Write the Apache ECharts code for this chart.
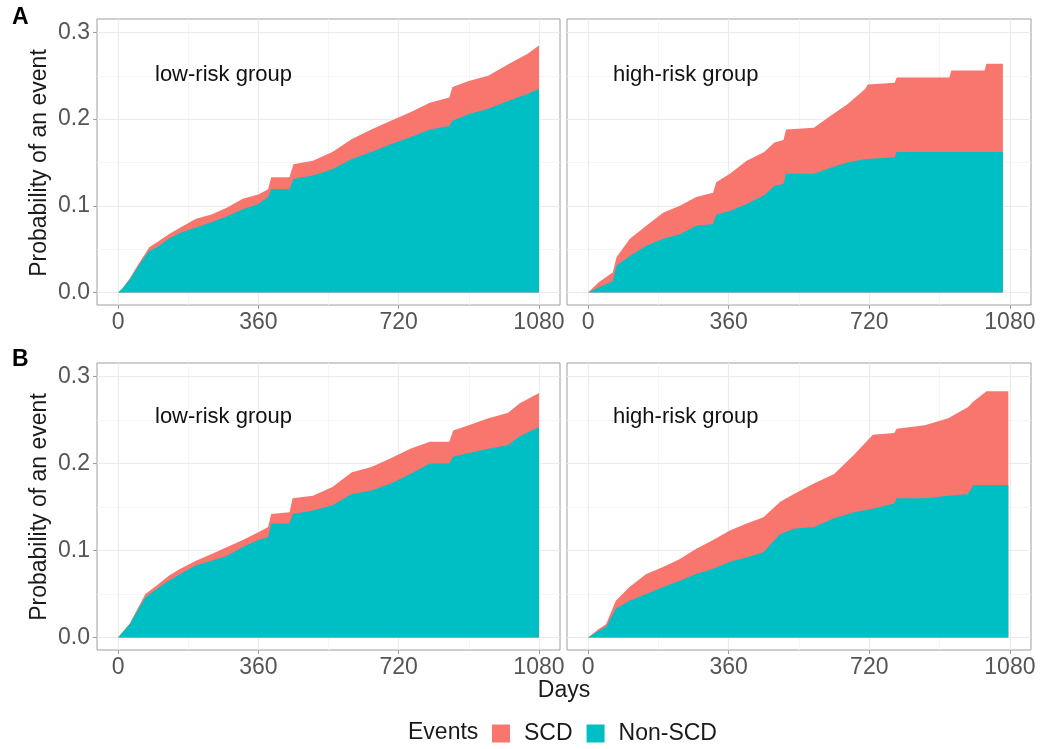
<!DOCTYPE html>
<html><head><meta charset="utf-8">
<script src="https://cdn.jsdelivr.net/npm/echarts@6/dist/echarts.min.js"></script>
<style>html,body{margin:0;padding:0;background:#fff}#c{width:1040px;height:749px}</style>
</head><body><div id="c"></div>
<script>
// ---- ticks / labels ----
const xTicks = [0, 360, 720, 1080];
const xMinor = [180, 540, 900];
const yTicks = [0, 0.1, 0.2, 0.3];
const yMinor = [0.05, 0.15, 0.25];
const seriesNames = ['SCD', 'Non-SCD'];
const groupLabels = ['low-risk group', 'high-risk group'];
const rowLabels = ['A', 'B'];
const xTitle = 'Days';
const yTitle = 'Probability of an event';
const legendTitle = 'Events';

// ---- data: A, low-risk ----
const lowA_days   = [0, 10, 30, 50, 70, 80, 100, 130, 160, 200, 240, 280, 320, 360, 385, 393, 440, 450, 500, 550, 600, 650, 700, 750, 800, 850, 858, 900, 950, 1000, 1050, 1080];
const lowA_nonSCD = [0, .004, .015, .029, .042, .048, .052, .062, .069, .075, .081, .088, .096, .102, .110, .119, .119, .131, .135, .142, .154, .162, .171, .179, .188, .192, .198, .206, .212, .221, .229, .235];
const lowA_SCD    = [0, 0, .001, .002, .003, .004, .006, .005, .006, .010, .009, .010, .012, .011, .009, .014, .014, .017, .017, .020, .023, .026, .027, .029, .031, .033, .039, .038, .038, .042, .046, .050];

// ---- data: A, high-risk ----
const highA_days   = [0, 28, 63, 73, 107, 149, 192, 235, 277, 320, 328, 363, 406, 451, 477, 500, 507, 578, 621, 664, 710, 716, 785, 790, 925, 930, 1015, 1020, 1062];
const highA_nonSCD = [0, .006, .013, .031, .042, .054, .062, .067, .077, .079, .090, .094, .102, .112, .123, .125, .137, .137, .144, .150, .154, .154, .156, .162, .162, .162, .162, .162, .162];
const highA_SCD    = [0, .006, .010, .010, .020, .023, .030, .033, .033, .036, .037, .043, .050, .050, .050, .051, .051, .053, .060, .067, .081, .086, .086, .086, .086, .094, .094, .102, .102];

// ---- data: B, low-risk ----
const lowB_days   = [0, 30, 50, 70, 100, 130, 160, 200, 240, 280, 320, 360, 385, 393, 440, 448, 500, 550, 600, 650, 700, 750, 800, 850, 860, 900, 950, 1000, 1030, 1080];
const lowB_nonSCD = [0, .015, .031, .046, .056, .065, .073, .083, .088, .094, .104, .112, .115, .131, .131, .142, .146, .152, .165, .169, .177, .188, .200, .200, .208, .212, .217, .221, .231, .242];
const lowB_SCD    = [0, .001, .002, .004, .004, .006, .006, .005, .008, .010, .008, .009, .012, .011, .013, .018, .017, .021, .025, .027, .029, .029, .025, .025, .030, .032, .035, .037, .038, .039];

// ---- data: B, high-risk ----
const highB_days   = [0, 28, 46, 71, 106, 149, 192, 235, 277, 320, 363, 406, 449, 492, 527, 578, 630, 681, 729, 784, 790, 862, 922, 973, 986, 1020, 1076];
const highB_nonSCD = [0, .008, .012, .033, .042, .050, .058, .065, .073, .079, .087, .092, .098, .119, .125, .127, .137, .144, .148, .154, .160, .160, .163, .165, .175, .175, .175];
const highB_SCD    = [0, .002, .003, .009, .016, .023, .023, .025, .029, .033, .036, .039, .040, .037, .040, .050, .051, .066, .085, .081, .080, .084, .089, .100, .096, .108, .108];

const COL_SCD = '#F8766D', COL_NON = '#00BFC4';
const FONT = "'Liberation Sans', Arial, Helvetica, sans-serif";

const panels = [
  {days: lowA_days,  non: lowA_nonSCD,  scd: lowA_SCD,  grid: {left: 97,  top: 19,  width: 463, height: 286}, showY: true},
  {days: highA_days, non: highA_nonSCD, scd: highA_SCD, grid: {left: 567, top: 19,  width: 464, height: 286}, showY: false},
  {days: lowB_days,  non: lowB_nonSCD,  scd: lowB_SCD,  grid: {left: 97,  top: 363, width: 463, height: 287}, showY: true},
  {days: highB_days, non: highB_nonSCD, scd: highB_SCD, grid: {left: 567, top: 363, width: 464, height: 287}, showY: false}
];

const grids = [], xAxes = [], yAxes = [], series = [];
panels.forEach((p, i) => {
  grids.push(Object.assign({show: true, backgroundColor: '#fff', borderColor: '#9e9e9e', borderWidth: 1}, p.grid));
  xAxes.push({
    type: 'value', gridIndex: i, min: -54, max: 1134,
    axisLine: {show: false, onZero: false},
    axisTick: {show: true, length: 4, customValues: xTicks, lineStyle: {color: '#9e9e9e'}},
    axisLabel: {show: true, customValues: xTicks, margin: 6, fontSize: 23, color: '#555', fontFamily: FONT,
                formatter: v => String(v)},
    splitLine: {show: false}
  });
  yAxes.push({
    type: 'value', gridIndex: i, min: -0.0145, max: 0.3155,
    axisLine: {show: false, onZero: false},
    axisTick: {show: p.showY, length: 4, customValues: yTicks, lineStyle: {color: '#9e9e9e'}},
    axisLabel: {show: p.showY, customValues: yTicks, margin: 7, fontSize: 23, color: '#555', fontFamily: FONT,
                formatter: v => v.toFixed(1)},
    splitLine: {show: false}
  });
  const gl = [];
  yMinor.forEach(v => gl.push({yAxis: v, lineStyle: {color: '#f3f3f3', width: 0.8, type: 'solid'}}));
  xMinor.forEach(v => gl.push({xAxis: v, lineStyle: {color: '#f3f3f3', width: 0.8, type: 'solid'}}));
  yTicks.forEach(v => gl.push({yAxis: v, lineStyle: {color: '#ebebeb', width: 1.2, type: 'solid'}}));
  xTicks.forEach(v => gl.push({xAxis: v, lineStyle: {color: '#ebebeb', width: 1.2, type: 'solid'}}));
  series.push({
    type: 'line', xAxisIndex: i, yAxisIndex: i, data: [], silent: true, z: 1,
    markLine: {silent: true, symbol: ['none', 'none'], label: {show: false}, z: 1, animation: false, data: gl}
  });
  // SCD layer sits on top of Non-SCD: its upper edge is Non-SCD + SCD
  series.push({
    name: seriesNames[0], type: 'line', xAxisIndex: i, yAxisIndex: i, z: 3, silent: true,
    data: p.days.map((d, k) => [d, p.non[k] + p.scd[k]]),
    showSymbol: false, symbol: 'none', lineStyle: {width: 0, color: COL_SCD},
    itemStyle: {color: COL_SCD}, areaStyle: {color: COL_SCD, opacity: 1, origin: 0}
  });
  series.push({
    name: seriesNames[1], type: 'line', xAxisIndex: i, yAxisIndex: i, z: 4, silent: true,
    data: p.days.map((d, k) => [d, p.non[k]]),
    showSymbol: false, symbol: 'none', lineStyle: {width: 0, color: COL_NON},
    itemStyle: {color: COL_NON}, areaStyle: {color: COL_NON, opacity: 1, origin: 0}
  });
});

const txt = (x, y, text, extra) => ({
  type: 'text', x: x, y: y, silent: true, z: 20,
  style: Object.assign({text: text, font: "22px " + FONT, fill: '#111', textAlign: 'left', textVerticalAlign: 'middle'}, extra || {})
});

const graphic = [
  txt(12, 18, rowLabels[0], {font: "bold 23px " + FONT, fill: '#000'}),
  txt(12, 360, rowLabels[1], {font: "bold 23px " + FONT, fill: '#000'}),
  txt(155, 75, groupLabels[0]),
  txt(613, 75, groupLabels[1]),
  txt(155, 417, groupLabels[0]),
  txt(613, 417, groupLabels[1]),
  Object.assign(txt(40, 163, yTitle, {font: "23px " + FONT, fill: '#1a1a1a', textAlign: 'center'}), {rotation: Math.PI / 2}),
  Object.assign(txt(40, 507, yTitle, {font: "23px " + FONT, fill: '#1a1a1a', textAlign: 'center'}), {rotation: Math.PI / 2}),
  txt(564, 691, xTitle, {font: "23px " + FONT, fill: '#1a1a1a', textAlign: 'center'}),
  txt(408, 733, legendTitle, {font: "23px " + FONT, fill: '#1a1a1a'})
];

const chart = echarts.init(document.getElementById('c'), null, {renderer: 'canvas'});
chart.setOption({
  animation: false,
  backgroundColor: '#fff',
  grid: grids, xAxis: xAxes, yAxis: yAxes, series: series,
  legend: {
    data: seriesNames, left: 492, top: 722, padding: 0, orient: 'horizontal',
    icon: 'rect', itemWidth: 18, itemHeight: 18, itemGap: 14, selectedMode: false,
    textStyle: {fontSize: 23, color: '#1a1a1a', fontFamily: FONT, padding: [0, 0, 0, 9]}
  },
  graphic: graphic
});
</script></body></html>
